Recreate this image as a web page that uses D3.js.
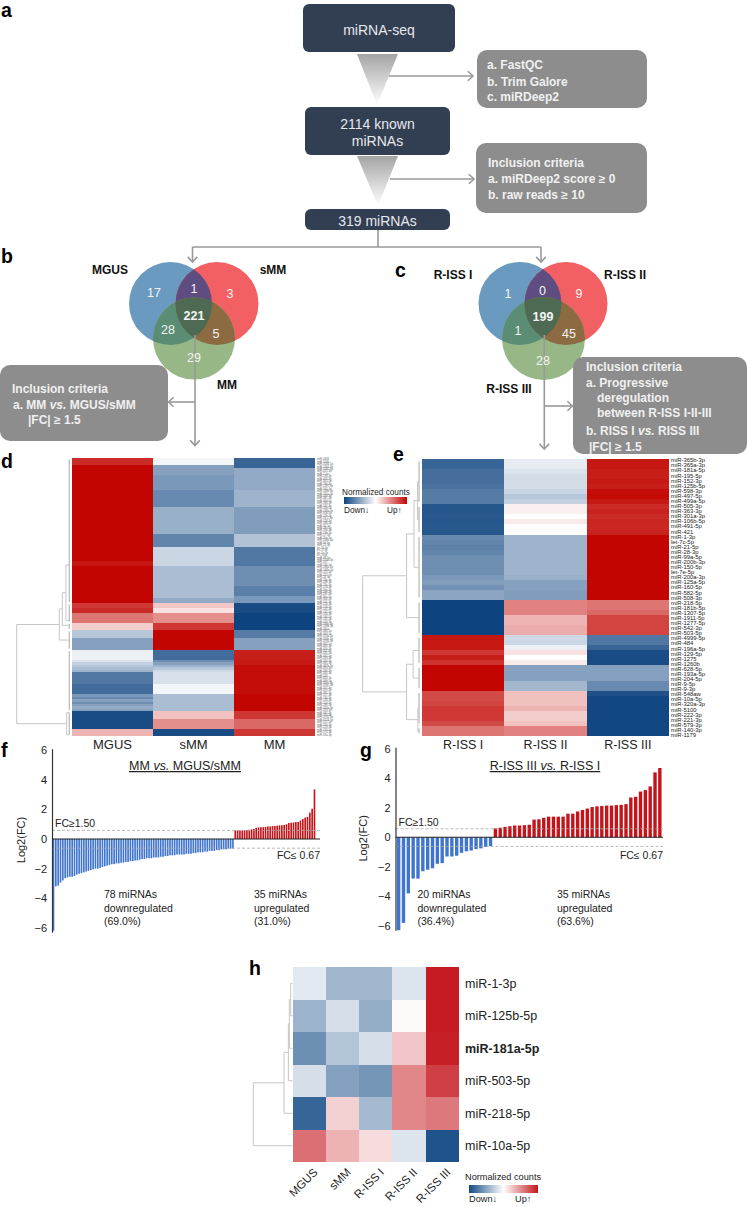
<!DOCTYPE html>
<html>
<head>
<meta charset="utf-8">
<script src="https://cdn.jsdelivr.net/npm/d3@7"></script>
<style>
  html, body { margin: 0; padding: 0; background: #fff; }
  svg { display: block; font-family: "Liberation Sans", Arial, sans-serif; }
</style>
</head>
<body>
<svg id="figure" width="747" height="1207"></svg>
<script>
// ---- values ----

// heatmap d: [value, number of rows] blocks, top to bottom (113 rows)
const dColumns = ['MGUS', 'sMM', 'MM'];
const dMgus = [[.85,3],[1,39],[.93,2],[1,15],[.8,2],[.85,2],[.55,4],[.2,3],[-.3,3],[-.5,5],[-.08,4],[-.15,1],[-.25,1],[-.3,1],[-.35,1],[-.4,1],[-.72,5],[-.78,4],[-.55,1],[-.62,1],[-.5,1],[-.6,1],[-.5,1],[-.45,1],[-.5,1],[-.95,7],[.3,3]];
const dSmm = [[-.05,3],[-.5,4],[-.55,6],[-.62,7],[-.42,11],[-.65,5],[-.22,8],[-.35,13],[-.45,2],[.22,2],[.12,2],[.45,4],[.8,3],[1,8],[-.78,4],[-.6,1],[-.5,1],[-.4,1],[-.3,1],[-.2,1],[-.16,5],[-.05,4],[-.35,7],[.25,3],[.45,4],[-.95,3]];
const dMm = [[-.82,4],[-.45,9],[-.4,7],[-.52,11],[-.32,5],[-.72,8],[-.6,8],[-.68,4],[-.55,3],[-.95,4],[-1,7],[-.7,3],[-.5,5],[.9,4],[.92,2],[.97,12],[1,7],[.8,3],[.6,4],[.8,3]];
// the row labels of d are too small to read in the reference, these are estimates
const dLabels = ['miR-4449','miR-1246','miR-3184-5p','miR-1301-3p','miR-1180-3p','miR-425-3p','miR-7-5p','miR-191-3p','miR-423-3p','miR-345-5p','miR-766-3p','miR-1287-5p','miR-501-3p','miR-148b-3p','miR-151a-3p','miR-339-3p','miR-361-3p','miR-30d-5p','miR-330-3p','miR-532-3p','miR-20b-5p','miR-130b-3p','miR-92b-3p','miR-15b-5p','miR-16-2-3p','miR-128-3p','miR-186-5p','miR-32-5p','miR-18a-5p','miR-19a-3p','miR-19b-3p','miR-17-5p','miR-20a-5p','miR-106a-5p','miR-93-5p','miR-25-3p','let-7d-3p','let-7f-5p','let-7g-5p','let-7i-5p','miR-98-5p','miR-103a-3p','miR-107','miR-140-5p','miR-146a-5p','miR-146b-5p','miR-155-5p','miR-222-5p','miR-24-3p','miR-23a-3p','miR-23b-3p','miR-27a-3p','miR-27b-3p','miR-29a-3p','miR-29b-3p','miR-29c-3p','miR-30a-5p','miR-30e-5p','miR-101-3p','miR-126-3p','miR-126-5p','miR-142-3p','miR-142-5p','miR-144-3p','miR-144-5p','miR-145-5p','miR-143-3p','miR-199a-3p','miR-199b-3p','miR-451a','miR-486-5p','miR-363-5p','miR-374a-5p','miR-374b-5p','miR-378a-3p','miR-382-5p','miR-409-3p','miR-410-3p','miR-411-5p','miR-431-5p','miR-432-5p','miR-433-3p','miR-454-3p','miR-485-3p','miR-487b-3p','miR-493-3p','miR-494-3p','miR-495-3p','miR-543','miR-654-3p','miR-369-3p','miR-376a-3p','miR-376c-3p','miR-377-3p','miR-379-5p','miR-381-3p','miR-127-3p','miR-134-5p','miR-136-3p','miR-154-5p','miR-299-3p','miR-323a-3p','miR-329-3p','miR-337-3p','miR-370-3p','miR-4732-5p','miR-6724-5p','miR-122-5p','miR-210-3p','miR-223-3p','miR-223-5p','miR-574-3p','miR-92a-3p'];

// heatmap e: one value per row (55 rows)
const eColumns = ['R-ISS I', 'R-ISS II', 'R-ISS III'];
const eLabels = ['miR-365b-3p','miR-365a-3p','miR-181a-5p','miR-195-5p','miR-152-3p','miR-125b-5p','miR-598-3p','miR-497-5p','miR-499a-5p','miR-505-3p','miR-363-3p','miR-301a-3p','miR-106b-5p','miR-491-5p','miR-421','miR-1-3p','let-7c-5p','miR-21-5p','miR-28-3p','miR-99a-5p','miR-200b-3p','miR-150-5p','let-7e-5p','miR-200a-3p','miR-125a-5p','miR-160-5p','miR-582-5p','miR-508-3p','miR-218-5p','miR-181b-5p','miR-1307-5p','miR-1911-5p','miR-1277-5p','miR-542-3p','miR-503-5p','miR-4999-5p','miR-484','miR-196a-5p','miR-129-5p','miR-1275','miR-1260b','miR-628-5p','miR-193a-5p','miR-204-5p','miR-9-5p','miR-9-3p','miR-548aw','miR-10a-5p','miR-320a-3p','miR-5100','miR-222-3p','miR-221-3p','miR-579-3p','miR-140-3p','miR-1179'];
const eRiss1 = [-.82,-.82,-.77,-.77,-.77,-.75,-.7,-.7,-.7,-.9,-.9,-.89,-.9,-.89,-.9,-.63,-.65,-.67,-.65,-.6,-.6,-.6,-.6,-.55,-.52,-.58,-.48,-.48,-1,-1,-1,-1,-1,-1,-1,.93,.93,.93,.8,.9,.82,1,1,1,1,1,.72,.72,.75,.8,.8,.8,.72,.55,.55];
const eRiss2 = [-.1,-.1,-.15,-.18,-.18,-.18,-.22,-.3,-.25,.06,.06,0,.08,-.01,-.01,-.4,-.4,-.4,-.4,-.4,-.4,-.4,-.4,-.42,-.5,-.5,-.52,-.52,.5,.5,.5,.3,.3,.33,.33,-.2,-.22,-.08,.12,0,.08,-.5,-.5,-.5,-.38,-.38,.25,.25,.25,.3,.2,.2,.25,.5,.5];
const eRiss3 = [.92,.92,.9,.9,.92,.9,.97,.98,.92,.85,.88,.85,.87,.86,.88,1,1,1,1,1,1,1,1,1,1,1,1,1,.55,.55,.6,.75,.75,.75,.75,-.72,-.72,-.82,-.95,-.95,-.95,-.5,-.5,-.5,-.62,-.62,-.92,-.98,-.98,-.98,-.98,-.98,-.98,-.98,-.98];

// waterfall f, log2(FC)
const fDown = [-6.2,-3.2,-3.15,-2.95,-2.8,-2.65,-2.6,-2.55,-2.55,-2.5,-2.4,-2.35,-2.3,-2.25,-2.2,-2.15,-2.1,-2.05,-2,-2,-1.95,-1.9,-1.85,-1.8,-1.75,-1.7,-1.7,-1.65,-1.65,-1.6,-1.6,-1.55,-1.55,-1.5,-1.5,-1.45,-1.45,-1.4,-1.35,-1.35,-1.3,-1.3,-1.3,-1.25,-1.25,-1.25,-1.2,-1.2,-1.15,-1.15,-1.1,-1.1,-1.1,-1.05,-1.05,-1.05,-1.05,-1,-1,-1,-.95,-.95,-.9,-.9,-.9,-.85,-.85,-.8,-.8,-.8,-.75,-.75,-.7,-.7,-.7,-.65,-.65,-.65];
const fUp = [.58,.58,.58,.58,.6,.6,.62,.65,.68,.75,.78,.8,.8,.82,.85,.85,.87,.88,.9,.92,.93,.95,1,1.08,1.1,1.12,1.15,1.15,1.25,1.35,1.45,1.5,1.78,2.05,3.35];

// waterfall g, log2(FC)
const gDown = [-6.3,-5.8,-3.8,-2.8,-2.8,-2.3,-2.2,-2.1,-1.8,-1.75,-1.3,-1.3,-1.25,-1.05,-.95,-.9,-.8,-.75,-.65,-.6];
const gUp = [.6,.65,.7,.75,.8,.8,.82,.85,1.2,1.22,1.32,1.4,1.4,1.4,1.4,1.6,1.6,1.75,1.85,1.95,2.05,2.1,2.12,2.15,2.15,2.18,2.2,2.25,2.7,2.75,3.1,3.2,3.45,4.4,4.7];
const yTicks = [-6, -4, -2, 0, 2, 4, 6];

// heatmap h
const hColumns = ['MGUS', 'sMM', 'R-ISS I', 'R-ISS II', 'R-ISS III'];
const hLabels = ['miR-1-3p', 'miR-125b-5p', 'miR-181a-5p', 'miR-503-5p', 'miR-218-5p', 'miR-10a-5p'];
const hMgus = [-.12, -.42, -.62, -.18, -.85, .62];
const hSmm = [-.4, -.18, -.32, -.52, .2, .33];
const hRiss1 = [-.4, -.45, -.18, -.58, -.38, .15];
const hRiss2 = [-.15, .02, .25, .52, .52, -.15];
const hRiss3 = [.98, .98, .96, .82, .58, -.95];

// venn counts: A, AB, B, ABC, AC, BC, C
const vennRegions = ['A', 'AB', 'B', 'ABC', 'AC', 'BC', 'C'];
const vennB = [17, 1, 3, 221, 28, 5, 29];
const vennC = [1, 0, 9, 199, 1, 45, 28];

// dendrograms: h = distance, kids = merged branches, r = row range, at = row where the branch leaves
const dTree = { h: 100, kids: [
  { h: 23, kids: [
    { h: 17.5, kids: [
      { h: 11, kids: [{ r: [0, 58], at: 43 }, { r: [59, 66], at: 65.5 }] },
      { r: [67, 69], at: 67.5 }
    ] },
    { r: [70, 77], at: 73.5 }
  ] },
  { h: 9.6, kids: [{ r: [78, 102], at: 103 }, { r: [103, 112], at: 112 }] }
] };
const eTree = { h: 100, kids: [
  { h: 26, kids: [
    { h: 13.5, kids: [
      { h: 7.5, kids: [{ r: [0, 8] }, { r: [9, 14] }] },
      { r: [15, 27] }
    ] },
    { r: [28, 34] }
  ] },
  { h: 26, kids: [
    { h: 15, kids: [{ r: [35, 40] }, { r: [41, 45] }] },
    { h: 7, kids: [{ r: [46, 52] }, { r: [53, 54] }] }
  ] }
] };
const hTree = { h: 100, kids: [
  { h: 22, kids: [
    { h: 11, kids: [
      { h: 8.5, kids: [{ h: 5, kids: [{ r: [0, 0] }, { r: [1, 1] }] }, { r: [2, 2] }] },
      { r: [3, 3] }
    ] },
    { r: [4, 4] }
  ] },
  { r: [5, 5] }
] };

// ---- drawing ----
const svg = d3.select('#figure');
const defs = svg.append('defs');
const expand = runs => runs.flatMap(([v, n]) => d3.range(n).map(() => v));

const colorBig = d3.scaleLinear().domain([-1, 0, 1]).range(['#0d437f', '#ffffff', '#c20500']);
const colorSmall = d3.scaleLinear().domain([-1, 0, 1]).range(['#134a85', '#ffffff', '#c5161d']);

const text = (parent, x, y, str, size, opts = {}) => parent.append('text')
  .attr('x', x).attr('y', y)
  .attr('font-size', size)
  .attr('font-weight', opts.weight || 400)
  .attr('fill', opts.fill || '#222')
  .attr('text-anchor', opts.anchor || 'start')
  .text(str);

// panel letters
[['a', 1, 17], ['b', 1, 263], ['c', 395, 277], ['d', 1, 468], ['e', 393, 461], ['f', 1, 757], ['g', 360, 757], ['h', 249, 975]]
  .forEach(([l, x, y]) => text(svg, x, y, l, 19.5, { weight: 700, fill: '#000' }));

// ---- flow chart (a) ----
const grad = defs.append('linearGradient').attr('id', 'tri').attr('x1', 0).attr('y1', 0).attr('x2', 0).attr('y2', 1);
grad.append('stop').attr('offset', 0).attr('stop-color', '#a4a4a4');
grad.append('stop').attr('offset', 1).attr('stop-color', '#ffffff');

const DARK = '#323e52', GREY = '#8d8d8d', LINE = '#999999', BOXTEXT = '#f0f0f0';

function darkBox(x, y, w, h, lines, size) {
  svg.append('rect').attr('x', x).attr('y', y).attr('width', w).attr('height', h).attr('rx', 6).attr('fill', DARK);
  lines.forEach(([s, ly]) => text(svg, x + w / 2, ly, s, size, { fill: '#e6e8ec', anchor: 'middle' }));
}
function greyBox(x, y, w, h, lines) {
  svg.append('rect').attr('x', x).attr('y', y).attr('width', w).attr('height', h).attr('rx', 10).attr('fill', GREY);
  lines.forEach(([s, lx, ly]) => {
    const t = text(svg, lx, ly, '', 12, { weight: 700, fill: BOXTEXT });
    // "vs." stays italic inside the box text
    s.split('|vs|').forEach((part, i) => {
      if (i) t.append('tspan').attr('font-style', 'italic').text('vs.');
      t.append('tspan').text(part);
    });
  });
}
function arrow(x1, y1, x2, y2) {
  const a = Math.atan2(y2 - y1, x2 - x1), s = 7;
  svg.append('line').attr('x1', x1).attr('y1', y1).attr('x2', x2).attr('y2', y2)
    .attr('stroke', LINE).attr('stroke-width', 1.6);
  svg.append('path')
    .attr('d', `M${x2 - s * Math.cos(a - .75)},${y2 - s * Math.sin(a - .75)}L${x2},${y2}L${x2 - s * Math.cos(a + .75)},${y2 - s * Math.sin(a + .75)}`)
    .attr('fill', 'none').attr('stroke', LINE).attr('stroke-width', 1.6);
}
const triangle = (x0, x1, xa, y0, y1) => svg.append('path')
  .attr('d', `M${x0},${y0}L${x1},${y0}L${xa},${y1}Z`).attr('fill', 'url(#tri)');

darkBox(303, 4, 152, 48, [['miRNA-seq', 35]], 14);
triangle(357, 398, 377, 54, 105);
arrow(389, 76, 473, 76);
greyBox(477, 50, 170, 58, [['a. FastQC', 487, 69], ['b. Trim Galore', 487, 86], ['c. miRDeep2', 487, 101]]);
darkBox(305, 107, 145, 48, [['2114 known', 129], ['miRNAs', 146]], 14);
triangle(357, 398, 378, 156, 206);
arrow(390, 179, 474, 179);
greyBox(476, 143, 171, 70, [['Inclusion criteria', 488, 167], ['a. miRDeep2 score ≥ 0', 488, 183], ['b. raw reads ≥ 10', 488, 199]]);
darkBox(305, 209, 145, 21, [['319 miRNAs', 226]], 14);

svg.append('path').attr('d', 'M378,230V247M192.5,247H541').attr('fill', 'none').attr('stroke', LINE).attr('stroke-width', 1.6);
arrow(192.5, 247, 192.5, 262);
arrow(541, 247, 541, 262);

// ---- venn diagrams (b, c) ----
const VENN_FILL = { A: '#6a9ac0', B: '#f26063', C: '#97b886' };
const VENN_MIX = { AB: '#5f4c80', AC: '#5b8d75', BC: '#8c6a42', ABC: '#4e6a53' };

function venn(id, circles, counts, countPos, labels) {
  const g = svg.append('g');
  Object.entries(circles).forEach(([k, c]) => {
    defs.append('clipPath').attr('id', id + k).append('circle').attr('cx', c[0]).attr('cy', c[1]).attr('r', c[2]);
  });
  const disc = (parent, k, fill) => parent.append('circle')
    .attr('cx', circles[k][0]).attr('cy', circles[k][1]).attr('r', circles[k][2]).attr('fill', fill);
  disc(g, 'A', VENN_FILL.A);
  disc(g, 'B', VENN_FILL.B);
  disc(g, 'C', VENN_FILL.C);
  disc(g.append('g').attr('clip-path', `url(#${id}A)`), 'B', VENN_MIX.AB);
  disc(g.append('g').attr('clip-path', `url(#${id}A)`), 'C', VENN_MIX.AC);
  disc(g.append('g').attr('clip-path', `url(#${id}B)`), 'C', VENN_MIX.BC);
  disc(g.append('g').attr('clip-path', `url(#${id}A)`).append('g').attr('clip-path', `url(#${id}B)`), 'C', VENN_MIX.ABC);
  return () => {
    vennRegions.forEach((r, i) => text(svg, countPos[i][0], countPos[i][1], counts[i], 12.5,
      { fill: '#f4f4f4', anchor: 'middle', weight: r === 'ABC' ? 700 : 400 }));
    labels.forEach(([s, x, y]) => text(svg, x, y, s, 12, { weight: 700, fill: '#111', anchor: 'middle' }));
  };
}

const labelsB = venn('vb', { A: [170.5, 303.5, 41.5], B: [217, 303.5, 41.5], C: [194, 338.5, 41] }, vennB,
  [[154, 297], [194, 293], [230, 298], [194, 320], [168, 334], [216, 338], [194, 362]],
  [['MGUS', 110, 274], ['sMM', 273, 274], ['MM', 227, 389]]);
const labelsC = venn('vc', { A: [520, 303.5, 41.5], B: [566, 303.5, 41.5], C: [543.5, 338.5, 41.5] }, vennC,
  [[508, 298], [542.5, 295], [579, 298], [543, 321], [518, 335], [569, 338], [543, 365]],
  [['R-ISS I', 453, 279], ['R-ISS II', 625, 279], ['R-ISS III', 509, 393]]);

svg.append('line').attr('x1', 195).attr('y1', 335).attr('x2', 195).attr('y2', 402).attr('stroke', LINE).attr('stroke-width', 1.6);
svg.append('line').attr('x1', 544.3).attr('y1', 335).attr('x2', 544.3).attr('y2', 406).attr('stroke', LINE).attr('stroke-width', 1.6);
labelsB();
labelsC();

greyBox(0, 365, 168, 76, [['Inclusion criteria', 12, 393], ['a. MM |vs| MGUS/sMM', 13, 409], ['|FC|  ≥ 1.5', 28, 424]]);
arrow(195, 402, 168.5, 402);
arrow(195, 402, 195, 445.5);
greyBox(573, 357, 174, 97, [
  ['Inclusion criteria', 586, 371], ['a. Progressive', 586, 387], ['deregulation', 597, 402],
  ['between R-ISS I-II-III', 597, 417], ['b. RISS I |vs| RISS III', 586, 435], ['|FC|  ≥ 1.5', 589, 451]
]);
arrow(544.3, 406, 572.5, 406);
arrow(544.3, 406, 544.3, 449);

// ---- heat maps ----
function heatmap(columns, rows, values, x, y, color) {
  const g = svg.append('g').attr('shape-rendering', 'crispEdges');
  columns.forEach((c, ci) => {
    g.selectAll(null).data(values[ci]).join('rect')
      .attr('x', x(c))
      .attr('y', (d, i) => y(rows[i]))
      .attr('width', x.bandwidth())
      .attr('height', y.bandwidth())
      .attr('fill', d => color(d));
  });
}

// elbow dendrogram: returns the row position of the node, draws its branches
function dendrogram(tree, xh, yRow) {
  const g = svg.append('g').attr('fill', 'none').attr('stroke', '#c6c6c6').attr('stroke-width', 1);
  const stemH = 5;
  const walk = node => {
    if (node.r) {
      const [a, b] = node.r;
      const at = node.at !== undefined ? node.at : (a + b) / 2;
      if (b > a) {
        g.append('line').attr('x1', xh(stemH)).attr('x2', xh(stemH))
          .attr('y1', yRow(a)).attr('y2', yRow(b)).attr('stroke', '#a8a8a8');
      }
      return { row: at, x: b > a ? xh(stemH) : xh(0) };
    }
    const kids = node.kids.map(walk);
    const row = d3.mean(kids, k => k.row);
    g.append('path')
      .attr('d', `M${kids[0].x},${yRow(kids[0].row)}H${xh(node.h)}V${yRow(kids[1].row)}H${kids[1].x}`);
    return { row, x: xh(node.h) };
  };
  walk(tree);
}

// d
const dRows = d3.range(113);
const dX = d3.scaleBand().domain(dColumns).range([72, 315]);
const dY = d3.scaleBand().domain(dRows).range([458, 736]);
heatmap(dColumns, dRows, [expand(dMgus), expand(dSmm), expand(dMm)], dX, dY, colorBig);
dendrogram(dTree, d3.scaleLinear().domain([0, 100]).range([72, 16.7]), r => dY(0) + (r + .5) * dY.step());
svg.append('g').selectAll('text').data(dLabels).join('text')
  .attr('x', 317).attr('y', (d, i) => dY(i) + dY.bandwidth() / 2 + .9)
  .attr('font-size', 2.8).attr('fill', '#666').text(d => d);
dColumns.forEach(c => text(svg, dX(c) + dX.bandwidth() / 2, 749, c, 13, { anchor: 'middle' }));

// e
const eRows = d3.range(55);
const eX = d3.scaleBand().domain(eColumns).range([422, 669]);
const eY = d3.scaleBand().domain(eRows).range([459, 736]);
heatmap(eColumns, eRows, [eRiss1, eRiss2, eRiss3], eX, eY, colorBig);
dendrogram(eTree, d3.scaleLinear().domain([0, 100]).range([422, 362.7]), r => eY(0) + (r + .5) * eY.step());
const eLabelY = d3.scalePoint().domain(eRows).range([460.3, 735]);
svg.append('g').selectAll('text').data(eLabels).join('text')
  .attr('x', 671).attr('y', (d, i) => eLabelY(i) + 2)
  .attr('font-size', 5.9).attr('fill', '#222').text(d => d);
eColumns.forEach(c => text(svg, eX(c) + eX.bandwidth() / 2, 749, c, 12.5, { anchor: 'middle' }));

// colour legends
function legend(id, color, x, w, barY, barH, titleX, titleY, upX, downY, size) {
  const lg = defs.append('linearGradient').attr('id', id);
  [-1, -.5, 0, .5, 1].forEach(v => lg.append('stop').attr('offset', (v + 1) / 2).attr('stop-color', color(v)));
  svg.append('rect').attr('x', x).attr('y', barY).attr('width', w).attr('height', barH).attr('fill', `url(#${id})`);
  text(svg, titleX, titleY, 'Normalized counts', size);
  text(svg, x, downY, 'Down↓', size);
  text(svg, upX, downY, 'Up↑', size);
}
legend('legE', colorBig, 344, 63, 497, 7, 342, 495, 387, 513, 8.2);

// h
const hX = d3.scaleBand().domain(hColumns).range([292.7, 459]);
const hY = d3.scaleBand().domain(hLabels).range([967, 1162]);
heatmap(hColumns, hLabels, [hMgus, hSmm, hRiss1, hRiss2, hRiss3], hX, hY, colorSmall);
dendrogram(hTree, d3.scaleLinear().domain([0, 100]).range([292.7, 253.3]), r => 967 + (r + .5) * hY.step());
hLabels.forEach(l => text(svg, 465, hY(l) + hY.bandwidth() / 2 + 4.5, l, 12.5,
  { weight: l === 'miR-181a-5p' ? 700 : 400 }));
hColumns.forEach(c => {
  text(svg, 0, 0, c, 11.5, { anchor: 'end' })
    .attr('x', null).attr('y', null)
    .attr('transform', `translate(${hX(c) + hX.bandwidth() / 2 + 9},1173) rotate(-45)`);
});
legend('legH', colorSmall, 469, 69, 1185, 8, 465, 1180, 515, 1202, 9.2);

// ---- waterfall bars (f, g) ----
function waterfall(down, up, opt) {
  const values = down.concat(up);
  const x = d3.scaleBand().domain(d3.range(values.length)).range(opt.xRange).padding(opt.padding);
  const y = d3.scaleLinear().domain([-6.3, 6.1]).range([opt.y0 + 6.3 * opt.unit, opt.y0 - 6.1 * opt.unit]);
  const g = svg.append('g');

  g.append('g').selectAll('rect').data(values).join('rect')
    .attr('x', (d, i) => x(i))
    .attr('y', d => y(Math.max(0, d)))
    .attr('width', x.bandwidth())
    .attr('height', d => Math.abs(y(d) - y(0)))
    .attr('fill', d => d < 0 ? '#3f74cf' : '#c4141a');

  // FC thresholds
  [0.58, -0.62].forEach(v => g.append('line')
    .attr('x1', opt.xRange[0]).attr('x2', opt.xEnd).attr('y1', y(v)).attr('y2', y(v))
    .attr('stroke', '#a8a8a8').attr('stroke-dasharray', '3,2').attr('stroke-width', .8));

  const yAxis = d3.axisLeft(y).tickValues(yTicks).tickSize(0).tickSizeOuter(0).tickPadding(5);
  const axisG = g.append('g').attr('transform', `translate(${opt.xRange[0]},0)`).call(yAxis);
  axisG.select('.domain').attr('stroke', '#333').attr('stroke-width', 1.2);
  axisG.selectAll('text').attr('font-size', 11).attr('font-family', 'inherit').attr('fill', '#222');

  g.append('line').attr('x1', opt.xRange[0]).attr('x2', opt.xEnd).attr('y1', y(0)).attr('y2', y(0))
    .attr('stroke', '#222').attr('stroke-width', 1.1);

  const yLab = text(g, 0, 0, 'Log2(FC)', 11, { anchor: 'middle' });
  yLab.attr('x', null).attr('y', null).attr('transform', `translate(${opt.labelX},${y(0) + 1}) rotate(-90)`);

  const title = text(g, opt.titleX, 770, '', 12.5, { anchor: 'middle' }).attr('text-decoration', 'underline');
  title.append('tspan').text(opt.title[0] + ' ');
  title.append('tspan').attr('font-style', 'italic').text('vs.');
  title.append('tspan').text(' ' + opt.title[1]);

  text(g, opt.fcUpX, opt.fcUpY, 'FC≥1.50', 10.5);
  text(g, opt.xEnd, 859, 'FC≤ 0.67', 10.5, { anchor: 'end' });
  opt.downText.forEach((s, i) => text(g, opt.downX, 898 + i * 13.6, s, 10.5));
  opt.upText.forEach((s, i) => text(g, opt.upX, 898 + i * 13.6, s, 10.5));
}

waterfall(fDown, fUp, {
  xRange: [52, 316], xEnd: 320, padding: .3, y0: 839, unit: 14.8, labelX: 25,
  title: ['MM', 'MGUS/sMM'], titleX: 185, fcUpX: 55, fcUpY: 827,
  downX: 104, upX: 254,
  downText: ['78 miRNAs', 'downregulated', '(69.0%)'], upText: ['35 miRNAs', 'upregulated', '(31.0%)']
});
waterfall(gDown, gUp, {
  xRange: [395.5, 663], xEnd: 663, padding: .3, y0: 837.3, unit: 14.75, labelX: 367,
  title: ['R-ISS III', 'R-ISS I'], titleX: 545, fcUpX: 398.5, fcUpY: 826,
  downX: 417.5, upX: 557,
  downText: ['20 miRNAs', 'downregulated', '(36.4%)'], upText: ['35 miRNAs', 'upregulated', '(63.6%)']
});
</script>
</body>
</html>
